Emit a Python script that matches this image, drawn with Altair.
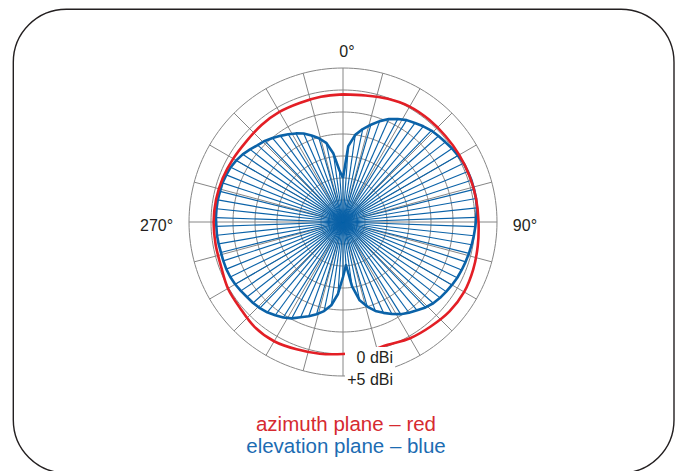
import altair as alt
import pandas as pd

# ---------------- data ----------------
# elevation plane (blue), gain in dBi every 4 degrees, 0 = top, clockwise
elev_angle = list(range(0, 360, 4))
elev_dbi = [
    -20.0, -12.7, -10.0, -8.4, -7.0, -5.6, -4.4, -3.5, -2.7, -2.2,
    -1.6, -1.1, -0.8, -0.5, -0.1, 0.2, 0.5, 0.6, 0.7, 0.7,
    0.7, 0.6, 0.3, 0.1, -0.1, -0.3, -0.5, -0.7, -0.9, -1.1,
    -1.4, -1.7, -2.0, -2.4, -3.0, -3.8, -4.5, -5.3, -6.3, -7.4,
    -8.5, -10.0, -11.8, -15.2, -20.2, -17.5, -13.6, -10.9, -9.3, -8.2,
    -7.2, -6.3, -5.2, -4.4, -3.8, -3.2, -2.8, -2.5, -2.3, -2.0,
    -1.7, -1.5, -1.4, -1.4, -1.4, -1.3, -1.2, -1.2, -1.1, -1.1,
    -1.1, -1.2, -1.2, -1.4, -1.6, -2.0, -2.5, -3.2, -3.9, -4.4,
    -5.1, -5.8, -6.5, -7.2, -8.0, -9.1, -10.2, -11.6, -14.3, -18.2,
]
# azimuth plane (red), gain in dBi every 10 degrees
az_angle = list(range(0, 360, 10))
az_dbi = [
    -1.0, -0.8, -0.2, 0.3, 0.4, 0.4, 0.5, 0.6, 0.7, 0.8,
    1.1, 1.5, 1.8, 1.6, 1.0, 0.5, -0.3, -0.1, 0.0, 0.4,
    0.8, 1.3, 1.2, 0.5, 0.2, -0.5, -0.6, -0.6, -0.7, -0.9,
    -1.2, -1.4, -1.2, -1.1, -1.2, -1.1,
]
ring_dbi = [-25, -20, -15, -10, -5, 0, 5]
spoke_angle = list(range(0, 360, 15))
angle_label_pos = [0, 90, 270]
angle_label_text = ["0°", "90°", "270°"]
dbi_label_val = [0, 5]
dbi_label_text = ["0 dBi", "+5 dBi"]
legend_text = ["azimuth plane – red", "elevation plane – blue"]

# ---------------- layout / style ----------------
FLOOR = -30.0          # dBi at the centre
PX = 4.4               # pixels per dB
W, H = 667, 463
CX, CY = 335, 214      # centre of the polar plot inside the view
LABEL_R = 38.6         # radius (in dB units from the centre) for angle labels
FONT = "Liberation Sans"
RED = "#e31e25"
BLUE = "#0a62a8"
GRID = "#868686"
INK = "#231f20"

xs = alt.Scale(domain=[-CX / PX, (W - CX) / PX], nice=False, zero=False)
ys = alt.Scale(domain=[-(H - CY) / PX, CY / PX], nice=False, zero=False)


def polar(chart, rexpr="datum.dbi - %f" % FLOOR):
    return chart.transform_calculate(
        r=rexpr
    ).transform_calculate(
        X="datum.r * sin(datum.angle * PI / 180)",
        Y="datum.r * cos(datum.angle * PI / 180)",
        X0="0",
        Y0="0",
    )


X = alt.X("X:Q", scale=xs, axis=None)
Y = alt.Y("Y:Q", scale=ys, axis=None)
X0 = alt.X("X0:Q", scale=xs, axis=None)
Y0 = alt.Y("Y0:Q", scale=ys, axis=None)

# frame
frame = alt.Chart(pd.DataFrame({"k": [0]})).mark_rect(
    cornerRadius=53, fillOpacity=0, stroke=INK, strokeWidth=1.4
).encode(x=alt.value(5.3), x2=alt.value(666), y=alt.value(1.3), y2=alt.value(465))

# grid rings
ring_rows = [{"ring": d, "angle": a, "dbi": d} for d in ring_dbi for a in range(0, 362, 2)]
rings = polar(alt.Chart(pd.DataFrame(ring_rows)).mark_line(
    color=GRID, strokeWidth=1
)).encode(x=X, y=Y, detail="ring:N", order="angle:Q")

# grid spokes
spokes = polar(alt.Chart(pd.DataFrame({"angle": spoke_angle, "dbi": [max(ring_dbi)] * len(spoke_angle)})).mark_rule(
    color=GRID, strokeWidth=1
)).encode(x=X0, y=Y0, x2="X:Q", y2="Y:Q")

elev_df = pd.DataFrame({"angle": elev_angle, "dbi": elev_dbi})
elev_closed = pd.concat([elev_df, pd.DataFrame({"angle": [360], "dbi": [elev_dbi[0]]})], ignore_index=True)
az_df = pd.DataFrame({"angle": az_angle, "dbi": az_dbi})
az_closed = pd.concat([az_df, pd.DataFrame({"angle": [360], "dbi": [az_dbi[0]]})], ignore_index=True)

blue_spokes = polar(alt.Chart(elev_df).mark_rule(color=BLUE, strokeWidth=1.15)).encode(
    x=X0, y=Y0, x2="X:Q", y2="Y:Q"
)
blue_line = polar(alt.Chart(elev_closed).mark_line(color=BLUE, strokeWidth=2.6, strokeJoin="round")).encode(
    x=X, y=Y, order="angle:Q"
)
red_line = polar(alt.Chart(az_closed).mark_line(color=RED, strokeWidth=2.6, interpolate="cardinal")).encode(
    x=X, y=Y, order="angle:Q"
)

# white box behind the dBi labels
box = polar(alt.Chart(pd.DataFrame({"angle": [180], "dbi": [0]})).mark_rect(
    fill="white", xOffset=2, x2Offset=52, yOffset=-7, y2Offset=36
)).encode(x=X, y=Y, x2="X:Q", y2="Y:Q")

dbi_labels = polar(alt.Chart(pd.DataFrame({"angle": [180, 180], "dbi": dbi_label_val, "t": dbi_label_text})).mark_text(
    align="right", baseline="middle", dx=50, dy=3.5, fontSize=16, font=FONT, color=INK
)).encode(x=X, y=Y, text="t:N")

lab_df = pd.DataFrame({"angle": angle_label_pos, "t": angle_label_text})


def angle_label(a, align, dx, dy):
    return alt.Chart(lab_df).transform_filter("datum.angle == %d" % a).transform_calculate(
        r=str(LABEL_R)
    ).transform_calculate(
        X="datum.r * sin(datum.angle * PI / 180)",
        Y="datum.r * cos(datum.angle * PI / 180)",
    ).mark_text(align=align, baseline="middle", dx=dx, dy=dy, fontSize=16, font=FONT, color=INK).encode(
        x=X, y=Y, text="t:N"
    )


lab_top = angle_label(0, "center", 4, 0)
lab_right = angle_label(90, "left", 0, 4)
lab_left = angle_label(270, "right", 0, 4)

legend_red = alt.Chart(pd.DataFrame({"t": [legend_text[0]]})).mark_text(
    align="center", baseline="alphabetic", fontSize=20.5, font=FONT, color="#d62a30"
).encode(x=alt.value(338), y=alt.value(423), text="t:N")
legend_blue = alt.Chart(pd.DataFrame({"t": [legend_text[1]]})).mark_text(
    align="center", baseline="alphabetic", fontSize=20.5, font=FONT, color="#1c6cb2"
).encode(x=alt.value(338), y=alt.value(445), text="t:N")

chart = alt.layer(
    frame, rings, spokes, blue_spokes, blue_line, red_line, box, dbi_labels,
    lab_top, lab_right, lab_left, legend_red, legend_blue
).properties(
    width=W, height=H, padding=0, autosize=alt.AutoSizeParams(type="none"), background="white"
).configure_view(stroke=None)

chart.save("out.html", embed_options={"renderer": "svg", "actions": False})
